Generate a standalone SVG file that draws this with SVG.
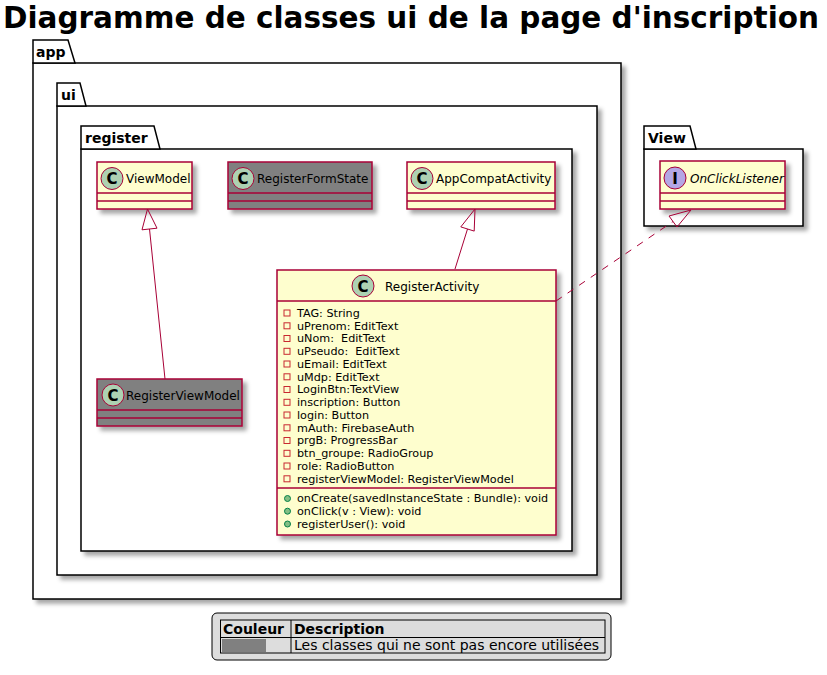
<svg xmlns="http://www.w3.org/2000/svg" width="827" height="675" viewBox="0 0 827 675">
<defs>
<filter id="sh" x="-10%" y="-10%" width="130%" height="130%">
<feGaussianBlur in="SourceAlpha" stdDeviation="2"/>
<feOffset dx="4" dy="4" result="b"/>
<feFlood flood-color="#000" flood-opacity="0.35"/>
<feComposite in2="b" operator="in"/>
<feMerge><feMergeNode/><feMergeNode in="SourceGraphic"/></feMerge>
</filter>
<style>
text{font-family:"DejaVu Sans",Verdana,sans-serif;fill:#000}
.title{font-size:29.4px;font-weight:bold}
.pk{font-size:14px;font-weight:bold}
.pkb{fill:#fff;stroke:#000;stroke-width:1.5}
.cls{fill:#FEFECE;stroke:#A80036;stroke-width:1.5}
.gry{fill:#808080;stroke:#A80036;stroke-width:1.5}
.sep{stroke:#A80036;stroke-width:1.5}
.cn{font-size:12px}
.ci{fill:#ADD1B2;stroke:#A80036;stroke-width:1}
.ii{fill:#B4A7E5;stroke:#A80036;stroke-width:1}
.cl{font-size:15px;font-weight:bold}
.at{font-size:11.2px}
.priv{fill:none;stroke:#C82930;stroke-width:1}
.pub{fill:#84BE84;stroke:#038048;stroke-width:1}
.lnk{fill:none;stroke:#A80036;stroke-width:1}
.arr{fill:none;stroke:#A80036;stroke-width:1}
.lg{font-size:14px}
</style>
</defs>

<text class="title" x="3" y="28" textLength="816" lengthAdjust="spacingAndGlyphs">Diagramme de classes ui de la page d'inscription</text>

<g id="pkg-app">
<rect class="pkb" x="33" y="63" width="588" height="536" filter="url(#sh)"/>
<path class="pkb" d="M33,63 L33,40 L68,40 L75,63 Z"/>
<text class="pk" x="36" y="57">app</text>
</g>
<g id="pkg-ui">
<rect class="pkb" x="57" y="106" width="540" height="469" filter="url(#sh)"/>
<path class="pkb" d="M57,106 L57,83 L80,83 L86,106 Z"/>
<text class="pk" x="61" y="100">ui</text>
</g>
<g id="pkg-register">
<rect class="pkb" x="81" y="149" width="491" height="402" filter="url(#sh)"/>
<path class="pkb" d="M81,149 L81,126 L154,126 L160,149 Z"/>
<text class="pk" x="85" y="143">register</text>
</g>
<g id="pkg-View">
<rect class="pkb" x="644" y="149" width="159" height="77" filter="url(#sh)"/>
<path class="pkb" d="M644,149 L644,126 L690,126 L696,149 Z"/>
<text class="pk" x="648" y="143">View</text>
</g>

<g id="ViewModel">
<rect class="cls" x="97" y="162" width="95" height="47" filter="url(#sh)"/>
<line class="sep" x1="97" y1="193" x2="192" y2="193"/>
<line class="sep" x1="97" y1="201" x2="192" y2="201"/>
<circle class="ci" cx="112" cy="178.5" r="11"/>
<text class="cl" x="112" y="184" text-anchor="middle">C</text>
<text class="cn" x="126" y="183">ViewModel</text>
</g>

<g id="RegisterFormState">
<rect class="gry" x="228" y="162" width="144" height="47" filter="url(#sh)"/>
<line class="sep" x1="228" y1="193" x2="372" y2="193"/>
<line class="sep" x1="228" y1="201" x2="372" y2="201"/>
<circle class="ci" cx="243" cy="178.5" r="11"/>
<text class="cl" x="243" y="184" text-anchor="middle">C</text>
<text class="cn" x="257" y="183">RegisterFormState</text>
</g>

<g id="AppCompatActivity">
<rect class="cls" x="407" y="162" width="148" height="47" filter="url(#sh)"/>
<line class="sep" x1="407" y1="193" x2="555" y2="193"/>
<line class="sep" x1="407" y1="201" x2="555" y2="201"/>
<circle class="ci" cx="422" cy="178.5" r="11"/>
<text class="cl" x="422" y="184" text-anchor="middle">C</text>
<text class="cn" x="436" y="183">AppCompatActivity</text>
</g>

<g id="OnClickListener">
<rect class="cls" x="660" y="161" width="125" height="48" filter="url(#sh)"/>
<line class="sep" x1="660" y1="193" x2="785" y2="193"/>
<line class="sep" x1="660" y1="201" x2="785" y2="201"/>
<circle class="ii" cx="675" cy="178" r="11"/>
<text class="cl" x="675" y="183.5" text-anchor="middle">I</text>
<text class="cn" x="690" y="183" font-style="italic">OnClickListener</text>
</g>

<g id="RegisterViewModel">
<rect class="gry" x="97" y="379" width="145" height="47" filter="url(#sh)"/>
<line class="sep" x1="97" y1="410" x2="242" y2="410"/>
<line class="sep" x1="97" y1="418" x2="242" y2="418"/>
<circle class="ci" cx="113" cy="395" r="11"/>
<text class="cl" x="113" y="400.5" text-anchor="middle">C</text>
<text class="cn" x="126" y="399.5">RegisterViewModel</text>
</g>

<g id="RegisterActivity">
<rect class="cls" x="277" y="270" width="279" height="265" filter="url(#sh)"/>
<line class="sep" x1="277" y1="301" x2="556" y2="301"/>
<line class="sep" x1="277" y1="488" x2="556" y2="488"/>
<circle class="ci" cx="363" cy="286" r="11"/>
<text class="cl" x="363" y="291.5" text-anchor="middle">C</text>
<text class="cn" x="385" y="290.5">RegisterActivity</text>
<g class="at">
<rect class="priv" x="284" y="310" width="6" height="6"/><text x="297" y="316.7">TAG: String</text>
<rect class="priv" x="284" y="322.8" width="6" height="6"/><text x="297" y="329.5">uPrenom: EditText</text>
<rect class="priv" x="284" y="335.5" width="6" height="6"/><text x="297" y="342.2" xml:space="preserve">uNom:  EditText</text>
<rect class="priv" x="284" y="348.3" width="6" height="6"/><text x="297" y="355" xml:space="preserve">uPseudo:  EditText</text>
<rect class="priv" x="284" y="361" width="6" height="6"/><text x="297" y="367.7">uEmail: EditText</text>
<rect class="priv" x="284" y="373.8" width="6" height="6"/><text x="297" y="380.5">uMdp: EditText</text>
<rect class="priv" x="284" y="386.5" width="6" height="6"/><text x="297" y="393.2">LoginBtn:TextView</text>
<rect class="priv" x="284" y="399.3" width="6" height="6"/><text x="297" y="406">inscription: Button</text>
<rect class="priv" x="284" y="412" width="6" height="6"/><text x="297" y="418.7">login: Button</text>
<rect class="priv" x="284" y="424.8" width="6" height="6"/><text x="297" y="431.5">mAuth: FirebaseAuth</text>
<rect class="priv" x="284" y="437.5" width="6" height="6"/><text x="297" y="444.2">prgB: ProgressBar</text>
<rect class="priv" x="284" y="450.3" width="6" height="6"/><text x="297" y="457">btn_groupe: RadioGroup</text>
<rect class="priv" x="284" y="463" width="6" height="6"/><text x="297" y="469.7">role: RadioButton</text>
<rect class="priv" x="284" y="475.8" width="6" height="6"/><text x="297" y="482.5">registerViewModel: RegisterViewModel</text>
<circle class="pub" cx="287.5" cy="498.5" r="3"/><text x="297" y="502.3">onCreate(savedInstanceState : Bundle): void</text>
<circle class="pub" cx="287.5" cy="511.2" r="3"/><text x="297" y="515">onClick(v : View): void</text>
<circle class="pub" cx="287.5" cy="524" r="3"/><text x="297" y="527.7">registerUser(): void</text>
</g>
</g>

<g id="connectors">
<line class="lnk" x1="149.5" y1="229" x2="165" y2="379"/>
<polygon class="arr" points="147.5,209 142,229.8 157,228.2"/>
<line class="lnk" x1="467.5" y1="229" x2="455" y2="269"/>
<polygon class="arr" points="475,209 460.8,226.9 474.2,231.1"/>
<line class="lnk" x1="556" y1="301" x2="673" y2="221.5" stroke-dasharray="7,7"/>
<polygon class="arr" points="691,210 669,216 677,227"/>
</g>

<g id="legend">
<rect x="212" y="613" width="399" height="47" rx="5" ry="5" fill="#DDDDDD" stroke="#000" stroke-width="1"/>
<rect x="220.5" y="620" width="384.5" height="33" fill="none" stroke="#000" stroke-width="1"/>
<line x1="220.5" y1="637.5" x2="605" y2="637.5" stroke="#000" stroke-width="1"/>
<line x1="291" y1="620" x2="291" y2="653" stroke="#000" stroke-width="1"/>
<rect x="222" y="639" width="44" height="13" fill="#808080"/>
<text class="lg" x="223" y="634" font-weight="bold">Couleur</text>
<text class="lg" x="294" y="634" font-weight="bold">Description</text>
<text class="lg" x="294" y="650">Les classes qui ne sont pas encore utilisées</text>
</g>
</svg>
